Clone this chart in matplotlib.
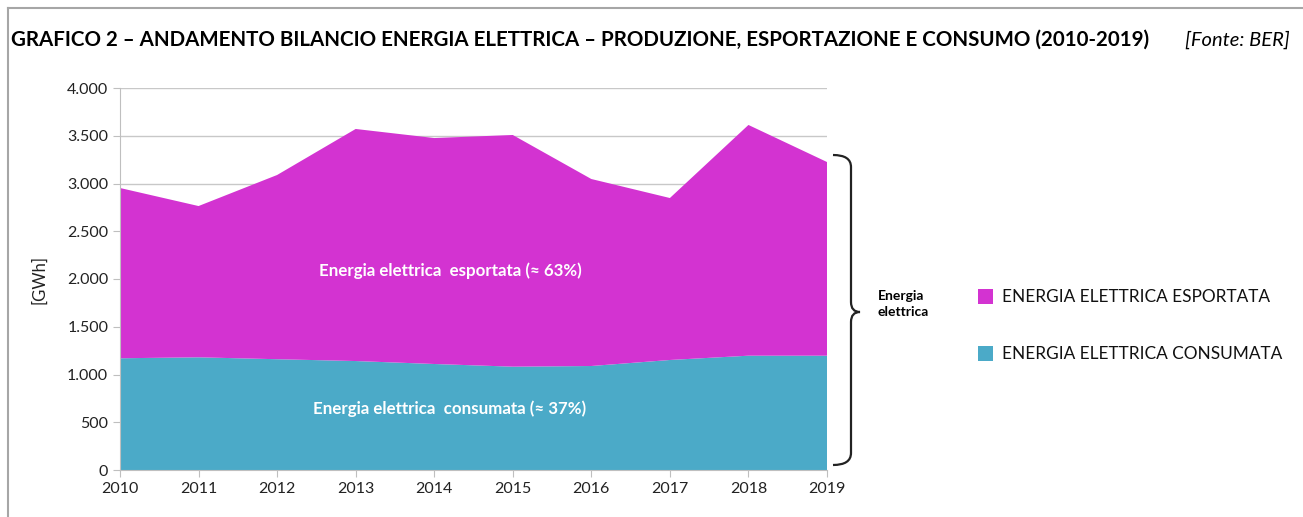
import numpy as np
import matplotlib
matplotlib.use("Agg")
import matplotlib.pyplot as plt
from matplotlib.path import Path
from matplotlib.patches import PathPatch, Rectangle
from matplotlib.lines import Line2D
from matplotlib.ticker import FuncFormatter

plt.rcParams['font.family'] = ['Lato', 'DejaVu Sans']

# data (GWh)
years = [2010, 2011, 2012, 2013, 2014, 2015, 2016, 2017, 2018, 2019]
consumata = [1170, 1180, 1160, 1141, 1110, 1082, 1089, 1152, 1197, 1197]
totale = [2953, 2764, 3089, 3571, 3476, 3508, 3047, 2848, 3613, 3225]
esportata = [t - c for t, c in zip(totale, consumata)]

col_esp = '#D333D1'
col_con = '#4BAAC8'

W, H = 1303, 517
fig = plt.figure(figsize=(W / 100, H / 100), dpi=100)

# outer frame (top and left lines)
fig.add_artist(Line2D([8 / W, 1.0], [1 - 8 / H, 1 - 8 / H], color='#a6a6a6', lw=1.5))
fig.add_artist(Line2D([8 / W, 8 / W], [0, 1 - 8 / H], color='#a6a6a6', lw=1.5))

fig.text(11 / W, 1 - 40 / H,
         'GRAFICO 2 – ANDAMENTO BILANCIO ENERGIA ELETTRICA – PRODUZIONE, ESPORTAZIONE E CONSUMO (2010-2019)',
         fontsize=14.8, fontweight='bold', va='center', ha='left')
fig.text(1290 / W, 1 - 40 / H, '[Fonte: BER]', fontsize=14.5, style='italic',
         va='center', ha='right')

ax = fig.add_axes([120 / W, 1 - 470 / H, 707 / W, 382 / H])
ax.stackplot(years, consumata, esportata, colors=[col_con, col_esp], zorder=2)
ax.set_xlim(2010, 2019)
ax.set_ylim(0, 4000)
ax.set_yticks(np.arange(0, 4001, 500))
ax.set_xticks(years)
ax.yaxis.set_major_formatter(FuncFormatter(lambda v, p: f'{int(v):,}'.replace(',', '.')))
ax.grid(axis='y', color='#c8c8c8', lw=1, zorder=0)
ax.set_axisbelow(True)
for s in ['top', 'right']:
    ax.spines[s].set_visible(False)
for s in ['left', 'bottom']:
    ax.spines[s].set_color('#bfbfbf')
ax.tick_params(axis='both', colors='#bfbfbf', labelcolor='#222222', labelsize=11.5, length=5)
ax.set_ylabel('[GWh]', fontsize=12, color='#222222', labelpad=14)

ax.text(2014.2, 2090, 'Energia elettrica  esportata (≈ 63%)', color='white',
        fontsize=12.2, fontweight='bold', ha='center', va='center')
ax.text(2014.2, 645, 'Energia elettrica  consumata (≈ 37%)', color='white',
        fontsize=12.2, fontweight='bold', ha='center', va='center')

# curly brace on the right
def fx(px):
    return px / W

def fy(py):
    return 1 - py / H

x0, x1, x2 = 833, 851, 860
yt, ym, yb = 155, 312, 465
verts = [(x0, yt), (x1, yt), (x1, yt + 12),
         (x1, ym - 10),
         (x1, ym), (x2, ym),
         (x1, ym), (x1, ym + 10),
         (x1, yb - 12),
         (x1, yb), (x0, yb)]
codes = [Path.MOVETO, Path.CURVE3, Path.CURVE3,
         Path.LINETO,
         Path.CURVE3, Path.CURVE3,
         Path.CURVE3, Path.CURVE3,
         Path.LINETO,
         Path.CURVE3, Path.CURVE3]
brace = Path([(fx(a), fy(b)) for a, b in verts], codes)
fig.add_artist(PathPatch(brace, transform=fig.transFigure, fill=False, lw=1.6, edgecolor='#222222'))
fig.text(878 / W, 1 - 304 / H, 'Energia\nelettrica', fontsize=10, fontweight='bold',
         ha='left', va='center', linespacing=1.3)

# legend
leg_items = [('ENERGIA ELETTRICA ESPORTATA', col_esp, 297),
             ('ENERGIA ELETTRICA CONSUMATA', col_con, 354)]
for label, c, py in leg_items:
    fig.add_artist(Rectangle((978 / W, 1 - (py + 7) / H), 15 / W, 15 / H,
                             transform=fig.transFigure, facecolor=c, edgecolor='none'))
    fig.text(1002 / W, 1 - py / H, label, fontsize=12.4, ha='left', va='center', color='#111111')

fig.savefig('out.png', dpi=100)
